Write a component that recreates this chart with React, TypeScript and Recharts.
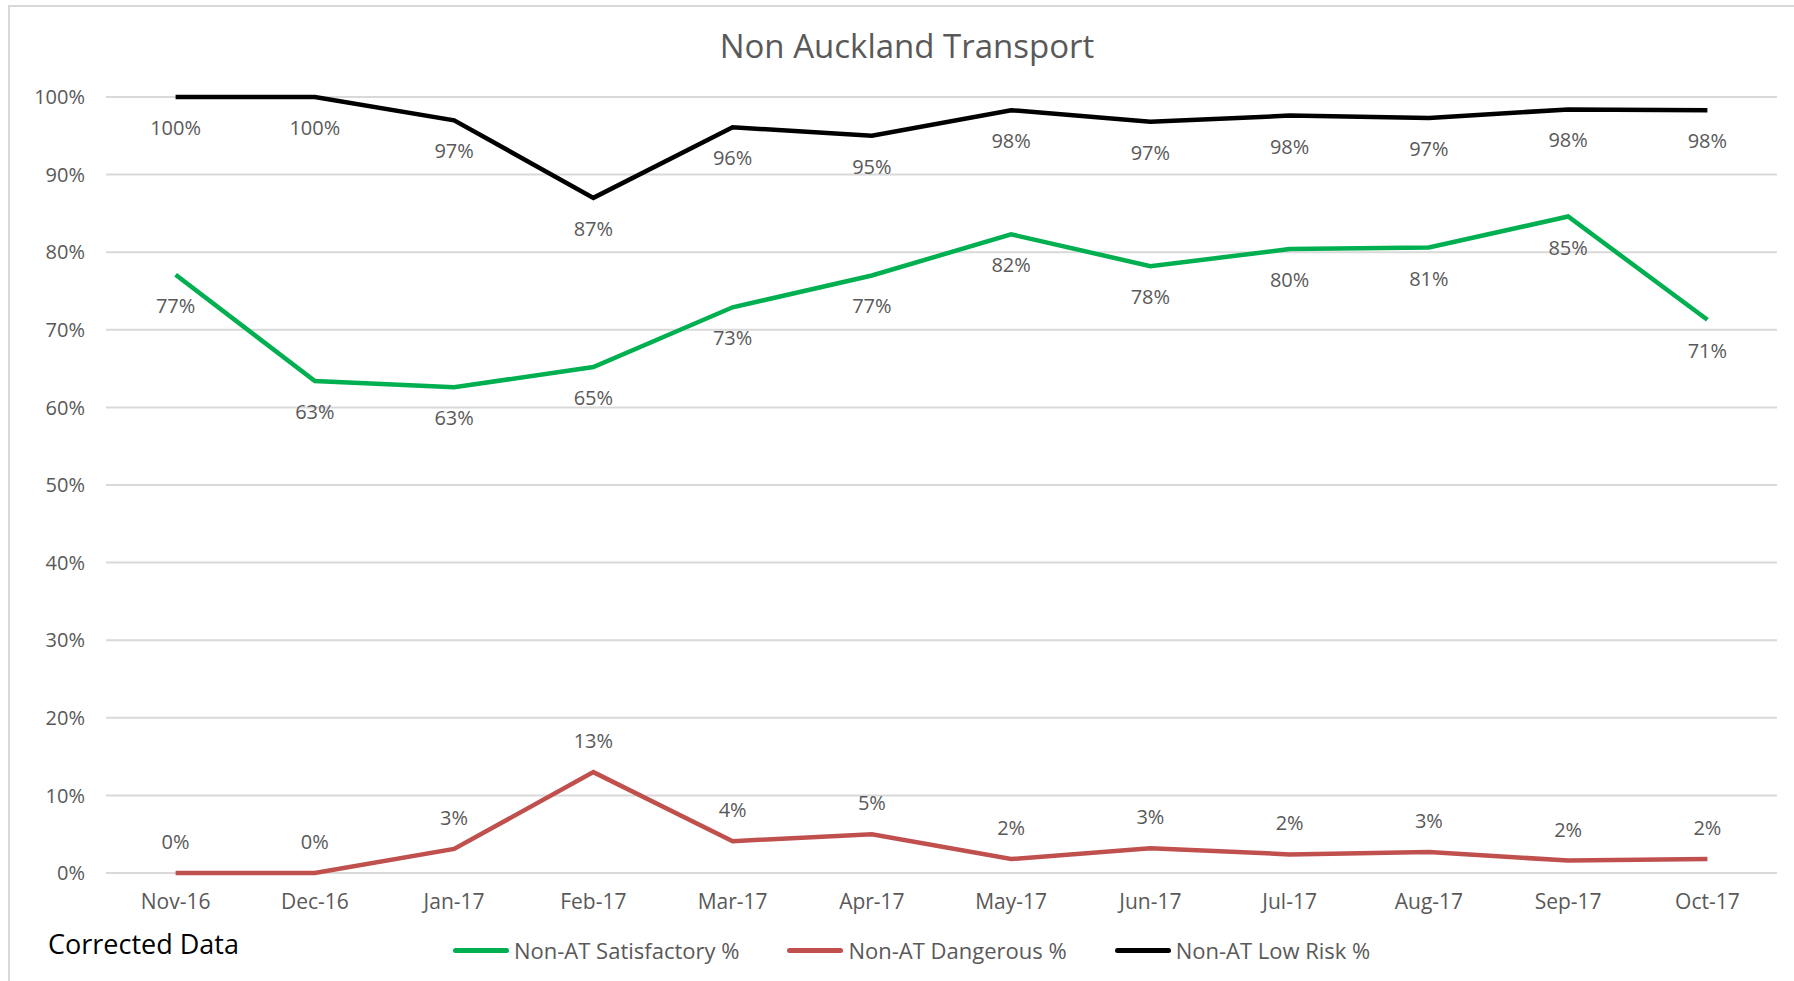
import { CartesianGrid, Line, LineChart, XAxis, YAxis, LabelList } from 'recharts'

const months = ['Nov-16', 'Dec-16', 'Jan-17', 'Feb-17', 'Mar-17', 'Apr-17', 'May-17', 'Jun-17', 'Jul-17', 'Aug-17', 'Sep-17', 'Oct-17']
const satisfactory = [77.1, 63.4, 62.6, 65.2, 72.9, 77.0, 82.3, 78.2, 80.4, 80.6, 84.6, 71.3]
const dangerous = [0, 0, 3.1, 13.0, 4.1, 5.0, 1.8, 3.2, 2.4, 2.7, 1.6, 1.8]
const lowRisk = [100, 100, 97.0, 87.0, 96.1, 95.0, 98.3, 96.8, 97.6, 97.3, 98.4, 98.3]
const yTicks = [0, 10, 20, 30, 40, 50, 60, 70, 80, 90, 100]
const boundaryTicks = [0, 1, 2, 3, 4, 5, 6, 7, 8, 9, 10, 11, 12]

const series = [
  { key: 'satisfactory', label: 'Non-AT Satisfactory %', color: '#00b050', labelPos: 'below' },
  { key: 'dangerous', label: 'Non-AT Dangerous %', color: '#c0504d', labelPos: 'above' },
  { key: 'lowRisk', label: 'Non-AT Low Risk %', color: '#000000', labelPos: 'below' },
]

const data = months.map((month, i) => ({
  month,
  satisfactory: satisfactory[i],
  dangerous: dangerous[i],
  lowRisk: lowRisk[i],
}))

const FONT = '"Open Sans", "Liberation Sans", sans-serif'
const GREY = '#595959'

const makeLabel = (pos: string) => (props: any) => {
  const { x, y, value } = props
  return (
    <text
      x={x}
      y={pos === 'above' ? y - 24 : y + 38}
      textAnchor="middle"
      fontSize={20}
      fontFamily={FONT}
      fill={GREY}
    >
      {`${Math.round(Number(value))}%`}
    </text>
  )
}

const App = () => {
  return (
    <div style={{ position: 'absolute', left: 0, top: 0, width: 1794, height: 981, background: '#fff', fontFamily: FONT }}>
      <div style={{ position: 'absolute', left: 9, top: 5, width: 1785, height: 2, background: '#d9d9d9' }} />
      <div style={{ position: 'absolute', left: 8, top: 5, width: 2, height: 976, background: '#d9d9d9' }} />

      <div style={{ position: 'absolute', left: 0, width: 1814, top: 24, textAlign: 'center', fontSize: 33, color: GREY, lineHeight: '44px' }}>
        Non Auckland Transport
      </div>

      <LineChart width={1794} height={981} data={data} margin={{ top: 97, right: 17, bottom: 58, left: 0 }}>
        <CartesianGrid vertical={false} stroke="#d9d9d9" strokeWidth={2} />
        <XAxis
          xAxisId="bounds"
          type="number"
          domain={[0, 12]}
          ticks={boundaryTicks}
          tick={false}
          height={0}
          tickSize={7}
          axisLine={{ stroke: '#d9d9d9', strokeWidth: 2 }}
          tickLine={{ stroke: '#d9d9d9', strokeWidth: 2 }}
        />
        <XAxis
          xAxisId="cat"
          dataKey="month"
          padding={{ left: 69.6, right: 69.6 }}
          axisLine={false}
          tickLine={false}
          tickSize={0}
          tickMargin={21}
          height={50}
          interval={0}
          tick={{ fontSize: 21, fill: GREY, fontFamily: FONT }}
        />
        <YAxis
          domain={[0, 100]}
          ticks={yTicks}
          width={106}
          axisLine={false}
          tickLine={false}
          tickSize={0}
          tickMargin={21}
          tickFormatter={(v) => `${v}%`}
          tick={{ fontSize: 20, fill: GREY, fontFamily: FONT }}
        />
        {series.map((s) => (
          <Line
            key={s.key}
            xAxisId="cat"
            dataKey={s.key}
            name={s.label}
            stroke={s.color}
            strokeWidth={4.5}
            dot={false}
            activeDot={false}
            isAnimationActive={false}
          >
            <LabelList dataKey={s.key} content={makeLabel(s.labelPos)} />
          </Line>
        ))}
      </LineChart>

      <div style={{ position: 'absolute', left: 48, top: 926, fontSize: 27, color: '#000', lineHeight: '36px' }}>Corrected Data</div>

      <div style={{ position: 'absolute', left: 453, top: 936, display: 'flex', gap: 48, alignItems: 'center', height: 28 }}>
        {series.map((s) => (
          <div key={s.key} style={{ display: 'flex', alignItems: 'center', gap: 5 }}>
            <div style={{ width: 56, height: 5, borderRadius: 3, background: s.color }} />
            <span style={{ fontSize: 22, color: GREY, whiteSpace: 'nowrap' }}>{s.label}</span>
          </div>
        ))}
      </div>
    </div>
  )
}

export default App
